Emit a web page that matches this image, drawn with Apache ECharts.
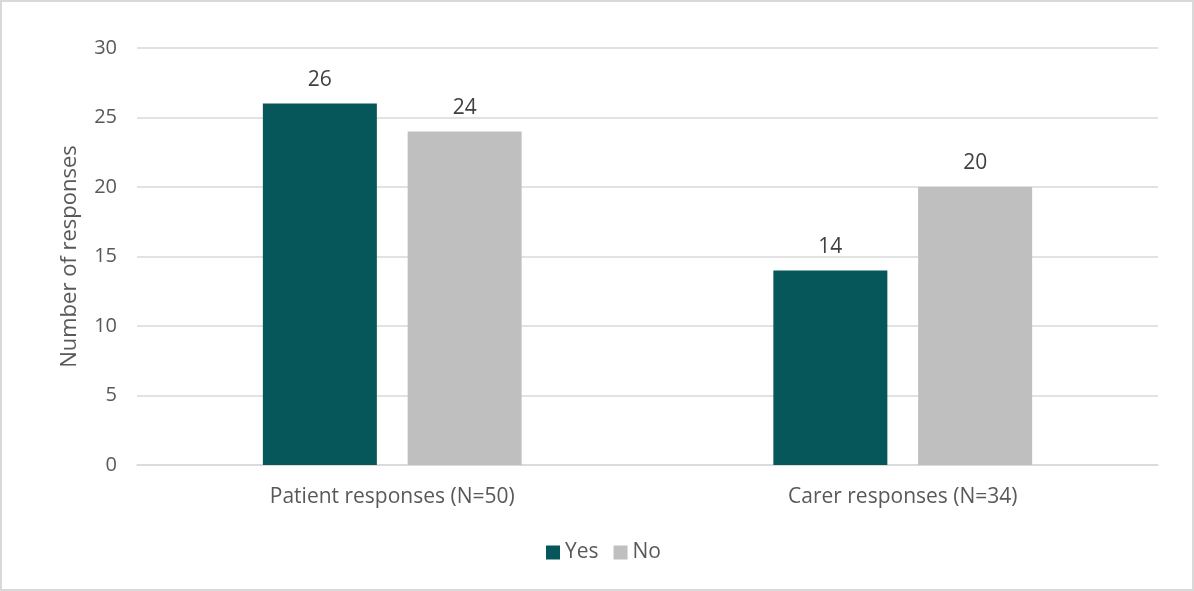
<!DOCTYPE html>
<html>
<head>
<meta charset="utf-8">
<script src="https://cdn.jsdelivr.net/npm/echarts@6/dist/echarts.min.js"></script>
<style>
  html, body { margin: 0; padding: 0; background: #fff; }
  #chart { width: 1194px; height: 591px; box-sizing: border-box; border: 2px solid #d9d9d9; }
</style>
</head>
<body>
<div id="chart"></div>
<script>
const categories = ['Patient responses (N=50)', 'Carer responses (N=34)'];
const yesValues = [26, 14];
const noValues = [24, 20];
const yTicks = [0, 5, 10, 15, 20, 25, 30];

const FONT = '"Open Sans", "Liberation Sans", sans-serif';
const TEXT = '#595959';

const chart = echarts.init(document.getElementById('chart'), null, { renderer: 'canvas' });
chart.setOption({
  animation: false,
  textStyle: { fontFamily: FONT },
  grid: { left: 135, right: 34, top: 46, bottom: 124, containLabel: false },
  legend: {
    data: ['Yes', 'No'],
    bottom: 21,
    left: 539,
    itemWidth: 14,
    itemHeight: 14,
    itemGap: 15,
    icon: 'rect',
    textStyle: { color: TEXT, fontSize: 21, fontFamily: FONT }
  },
  xAxis: {
    type: 'category',
    data: categories,
    axisTick: { show: false },
    axisLine: { lineStyle: { color: '#d9d9d9', width: 1.5 } },
    axisLabel: { color: TEXT, fontSize: 21, margin: 22, fontFamily: FONT }
  },
  yAxis: {
    type: 'value',
    min: yTicks[0],
    max: yTicks[yTicks.length - 1],
    interval: 5,
    name: 'Number of responses',
    nameLocation: 'middle',
    nameGap: 56,
    nameTextStyle: { color: TEXT, fontSize: 22, fontFamily: FONT },
    axisLine: { show: false },
    axisTick: { show: false },
    axisLabel: { color: TEXT, fontSize: 20, margin: 20, fontFamily: FONT },
    splitLine: { lineStyle: { color: '#d9d9d9', width: 1.5 } }
  },
  series: [
    {
      name: 'Yes',
      type: 'bar',
      data: yesValues,
      itemStyle: { color: '#06575a' },
      barWidth: 114,
      barGap: '27%',
      label: { show: true, position: 'top', distance: 13, color: '#404040', fontSize: 21, fontFamily: FONT }
    },
    {
      name: 'No',
      type: 'bar',
      data: noValues,
      itemStyle: { color: '#bfbfbf' },
      barWidth: 114,
      label: { show: true, position: 'top', distance: 13, color: '#404040', fontSize: 21, fontFamily: FONT }
    }
  ]
});
</script>
</body>
</html>
